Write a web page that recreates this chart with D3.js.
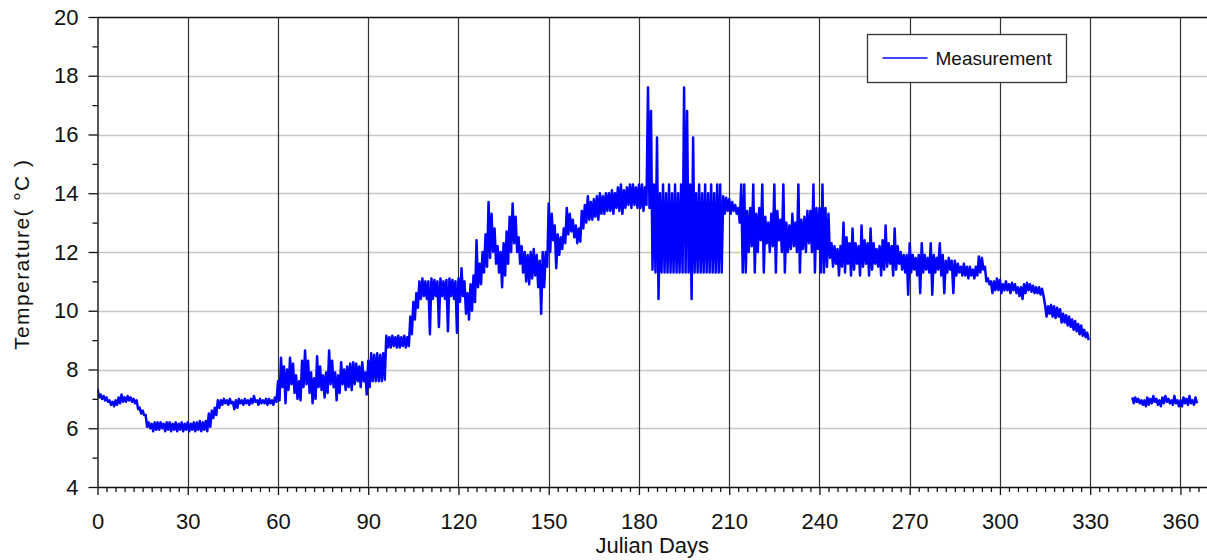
<!DOCTYPE html>
<html>
<head>
<meta charset="utf-8">
<script src="https://cdn.jsdelivr.net/npm/d3@7"></script>
<style>
  html, body { margin: 0; padding: 0; background: #fff; }
  svg { display: block; }
  text { font-family: "Liberation Sans", Arial, sans-serif; fill: #111; }
</style>
</head>
<body>
<svg id="chart" width="1207" height="560"></svg>
<script>
// Daily temperature envelope (°C): first record runs from day 0 to day 329,
// second record from day 344 to day 365.
const startA = 0;
const lowA = [
  7.05,7.0,6.95,6.9,6.8,6.75,6.8,6.85,6.9,6.9,
  6.95,6.9,6.85,6.65,6.5,6.45,6.05,6.0,5.9,5.95,
  5.95,6.0,5.9,5.95,5.9,5.95,5.9,5.95,5.9,5.95,
  5.9,5.95,5.9,5.95,5.9,5.95,5.9,6.05,6.35,6.45,
  6.7,6.8,6.85,6.8,6.85,6.65,6.7,6.85,6.8,6.85,
  6.8,6.85,6.9,6.8,6.85,6.85,6.8,6.85,6.8,6.9,
  6.95,7.4,6.85,7.3,7.5,7.2,7.0,6.95,7.4,7.5,
  7.2,6.85,7.0,7.4,7.3,7.05,7.2,7.5,7.4,6.95,
  7.2,7.5,7.3,7.4,7.3,7.5,7.6,7.4,7.6,7.15,
  7.4,7.6,7.6,7.6,7.6,7.65,8.75,8.75,8.8,8.75,
  8.75,8.8,8.75,8.8,9.2,9.7,10.1,10.4,10.5,10.4,
  9.2,10.4,10.5,9.45,10.5,10.4,9.3,10.5,10.4,9.25,
  10.3,10.5,9.9,9.7,10.0,10.3,10.8,10.9,11.3,11.5,
  11.8,12.0,11.6,11.3,10.8,11.2,11.6,12.0,12.3,12.0,
  11.6,11.3,11.0,10.9,11.1,11.2,10.8,9.9,10.8,11.5,
  12.0,12.4,11.45,11.9,12.1,12.3,12.6,12.7,12.5,12.3,
  12.35,12.8,13.0,13.1,13.1,13.2,13.1,13.3,13.3,13.4,
  13.4,13.3,13.5,13.4,13.3,13.5,13.6,13.5,13.6,13.5,
  13.5,13.4,13.6,13.5,11.4,11.3,10.4,11.3,11.3,11.3,
  11.3,11.3,11.3,11.3,11.3,11.3,11.3,10.4,11.3,11.3,
  11.3,11.3,11.3,11.3,11.3,11.3,11.3,11.3,13.3,13.4,
  13.3,13.4,13.3,13.0,11.3,11.3,12.0,12.2,11.3,12.0,
  12.4,11.3,12.3,12.0,12.2,11.3,12.4,12.0,11.3,12.0,
  12.1,12.2,12.0,11.3,12.1,12.0,12.3,12.0,11.3,12.1,
  11.3,11.3,11.5,11.8,11.5,11.6,11.2,11.5,11.3,11.6,
  11.2,11.4,11.6,11.2,11.5,11.6,11.2,11.4,11.6,11.5,
  11.2,11.4,11.5,11.6,11.2,11.4,11.6,11.4,11.3,10.55,
  11.3,11.4,11.2,10.6,11.3,11.4,11.3,10.55,11.3,11.4,
  11.2,10.6,11.3,11.4,10.6,11.2,11.3,11.2,11.2,11.1,
  11.2,11.1,11.2,11.3,11.4,11.0,10.9,10.6,10.7,10.7,
  10.6,10.7,10.7,10.6,10.7,10.6,10.5,10.4,10.6,10.7,
  10.65,10.6,10.6,10.55,10.5,9.8,9.9,9.8,9.75,9.8,
  9.6,9.6,9.5,9.45,9.35,9.3,9.2,9.15,9.1,9.0
];
const highA = [
  7.35,7.15,7.1,7.05,6.95,6.9,6.95,7.05,7.15,7.05,
  7.1,7.05,7.0,6.95,6.7,6.6,6.45,6.2,6.15,6.2,
  6.2,6.2,6.15,6.2,6.2,6.15,6.2,6.15,6.2,6.15,
  6.2,6.15,6.2,6.2,6.25,6.2,6.25,6.5,6.6,6.7,
  6.95,6.95,7.0,6.95,7.0,6.9,6.95,7.0,6.95,7.0,
  6.95,7.0,7.1,6.95,7.0,6.95,7.0,7.0,6.95,7.05,
  7.6,8.4,8.1,8.0,8.4,8.2,7.8,7.6,8.3,8.65,
  8.3,7.9,7.7,8.45,8.1,7.8,7.9,8.65,8.3,7.9,
  7.8,8.25,8.0,8.1,8.2,8.25,8.2,8.1,8.25,7.9,
  8.3,8.55,8.5,8.55,8.5,8.55,9.15,9.1,9.15,9.1,
  9.15,9.1,9.15,9.1,9.8,10.3,10.6,11.0,11.1,11.0,
  11.0,11.1,11.05,11.0,11.1,11.0,11.05,11.1,11.05,11.0,
  11.1,11.45,11.0,10.6,10.9,11.2,12.4,11.6,12.0,12.6,
  13.7,13.3,12.8,12.2,12.0,12.3,12.7,13.2,13.65,13.2,
  12.5,12.2,12.0,11.9,12.0,12.1,11.9,11.7,12.0,12.0,
  13.65,13.3,12.9,12.6,12.5,12.8,13.5,13.3,13.1,12.9,
  12.8,13.4,13.6,13.9,13.7,13.8,13.9,14.0,13.9,14.0,
  14.0,14.1,14.0,14.2,14.3,14.1,14.2,14.3,14.3,14.2,
  14.3,14.3,14.2,17.6,16.8,14.3,15.9,14.0,14.3,14.0,
  14.3,14.0,14.3,14.0,14.3,17.6,16.8,14.3,15.9,14.0,
  14.3,14.0,14.3,14.0,14.3,14.0,14.3,14.3,13.9,13.85,
  13.8,13.7,13.6,13.5,14.3,14.3,13.4,13.5,14.3,13.3,
  13.5,14.3,13.2,13.0,13.3,14.3,13.4,13.1,14.3,13.0,
  12.9,13.3,13.0,14.3,13.1,13.2,13.4,13.4,14.3,13.5,
  13.5,14.3,13.5,13.3,12.3,12.2,12.1,12.2,13.0,12.5,
  12.3,12.8,12.3,12.2,12.9,12.4,12.3,12.8,12.3,12.1,
  12.2,12.4,12.9,12.3,12.2,12.8,12.2,12.0,11.9,11.9,
  12.3,11.9,11.8,11.9,12.3,11.9,11.8,12.3,11.9,11.8,
  12.3,11.9,11.7,11.8,11.7,11.7,11.6,11.5,11.6,11.5,
  11.5,11.4,11.5,11.85,11.8,11.5,11.1,11.0,11.0,11.1,
  11.05,10.9,11.0,10.9,10.95,10.9,10.8,10.8,10.9,10.95,
  10.9,10.85,10.8,10.8,10.75,10.2,10.15,10.2,10.15,10.1,
  10.05,9.9,9.85,9.8,9.7,9.65,9.55,9.5,9.35,9.25
];
const startB = 344;
const lowB = [
  6.85,6.9,6.85,6.8,6.75,6.8,6.85,6.9,6.8,6.75,
  6.85,6.9,6.85,6.8,6.85,6.75,6.75,6.85,6.8,6.85,
  6.8,6.85
];
const highB = [
  7.05,7.05,7.0,6.95,6.95,7.05,7.0,7.1,7.0,6.95,
  7.05,7.1,7.0,6.95,7.1,6.95,6.95,7.05,7.0,7.1,
  6.95,7.05
];

const xMajorTicks = [0, 30, 60, 90, 120, 150, 180, 210, 240, 270, 300, 330, 360];
const yMajorTicks = [4, 6, 8, 10, 12, 14, 16, 18, 20];
const seriesName = "Measurement";
const xTitle = "Julian Days";
const yTitle = "Temperature( °C )";

const svg = d3.select("#chart");
const plotLeft = 97.5, plotRight = 1207.5, plotTop = 17, plotBottom = 487;

const x = d3.scaleLinear().domain([0, 369]).range([plotLeft, plotRight]);
const y = d3.scaleLinear().domain([4, 20]).range([plotBottom, plotTop]);

// horizontal grid
svg.append("g")
  .selectAll("line")
  .data(yMajorTicks.filter(v => v > 4 && v < 20))
  .join("line")
  .attr("x1", plotLeft).attr("x2", plotRight)
  .attr("y1", d => Math.round(y(d)) + 0.5).attr("y2", d => Math.round(y(d)) + 0.5)
  .attr("stroke", "#c8c8c8").attr("stroke-width", 1.3);

// vertical grid
svg.append("g")
  .selectAll("line")
  .data(xMajorTicks.filter(v => v > 0))
  .join("line")
  .attr("x1", d => Math.round(x(d)) + 0.5).attr("x2", d => Math.round(x(d)) + 0.5)
  .attr("y1", plotTop).attr("y2", plotBottom)
  .attr("stroke", "#333").attr("stroke-width", 1.2);

// top frame line
svg.append("line")
  .attr("x1", plotLeft).attr("x2", plotRight)
  .attr("y1", plotTop + 0.5).attr("y2", plotTop + 0.5)
  .attr("stroke", "#111").attr("stroke-width", 1.3);

// measurement series
svg.append("clipPath").attr("id", "plotClip")
  .append("rect").attr("x", plotLeft).attr("y", plotTop)
  .attr("width", plotRight - plotLeft).attr("height", plotBottom - plotTop);

function envelopePoints(start, lows, highs) {
  const pts = [];
  lows.forEach((lo, i) => {
    pts.push([start + i, highs[i]]);
    pts.push([start + i + 0.5, lo]);
  });
  return pts;
}

const line = d3.line().x(d => x(d[0])).y(d => y(d[1]));
const series = svg.append("g").attr("clip-path", "url(#plotClip)");
[envelopePoints(startA, lowA, highA), envelopePoints(startB, lowB, highB)].forEach(pts => {
  series.append("path")
    .attr("d", line(pts))
    .attr("fill", "none")
    .attr("stroke", "#0000ff")
    .attr("stroke-width", 2.5)
    .attr("stroke-linejoin", "round");
});

// x axis
const xAxisG = svg.append("g").attr("transform", `translate(0,${plotBottom})`);
xAxisG.call(d3.axisBottom(x).tickValues(d3.range(0, 370, 3).filter(d => d % 30 !== 0))
  .tickSize(5).tickSizeOuter(0).tickFormat(""));
const xMajor = svg.append("g").attr("transform", `translate(0,${plotBottom})`)
  .call(d3.axisBottom(x).tickValues(xMajorTicks).tickSize(8).tickSizeOuter(0).tickPadding(18));
xMajor.select(".domain").remove();
xMajor.selectAll("text").attr("font-size", 22).attr("fill", "#111")
  .style("font-family", '"Liberation Sans", Arial, sans-serif');
xAxisG.select(".domain").attr("stroke", "#111").attr("stroke-width", 1.4);

// y axis
const yAxisG = svg.append("g").attr("transform", `translate(${plotLeft},0)`);
yAxisG.call(d3.axisLeft(y).tickValues(d3.range(5, 20, 2)).tickSize(5).tickSizeOuter(0).tickFormat(""));
const yMajor = svg.append("g").attr("transform", `translate(${plotLeft},0)`)
  .call(d3.axisLeft(y).tickValues(yMajorTicks).tickSize(9).tickSizeOuter(0).tickPadding(10));
yMajor.select(".domain").remove();
yMajor.selectAll("text").attr("font-size", 22).attr("fill", "#111")
  .style("font-family", '"Liberation Sans", Arial, sans-serif');
yAxisG.select(".domain").attr("stroke", "#111").attr("stroke-width", 1.4);
svg.selectAll(".tick line").attr("stroke", "#111").attr("stroke-width", 1.3);

// axis titles
svg.append("text")
  .attr("x", (plotLeft + 1207) / 2).attr("y", 553)
  .attr("text-anchor", "middle").attr("font-size", 22)
  .text(xTitle);
svg.append("text")
  .attr("transform", "translate(29,255) rotate(-90)")
  .attr("text-anchor", "middle").attr("font-size", 21)
  .attr("textLength", 190).attr("lengthAdjust", "spacing")
  .text(yTitle);

// legend
const legend = svg.append("g").attr("transform", "translate(867.5,34.5)");
legend.append("rect").attr("width", 199).attr("height", 48)
  .attr("fill", "#fff").attr("stroke", "#333").attr("stroke-width", 1.3);
legend.append("line").attr("x1", 15).attr("x2", 60).attr("y1", 23.5).attr("y2", 23.5)
  .attr("stroke", "#4646ff").attr("stroke-width", 2);
legend.append("text").attr("x", 68).attr("y", 30).attr("font-size", 19).text(seriesName);
</script>
</body>
</html>
